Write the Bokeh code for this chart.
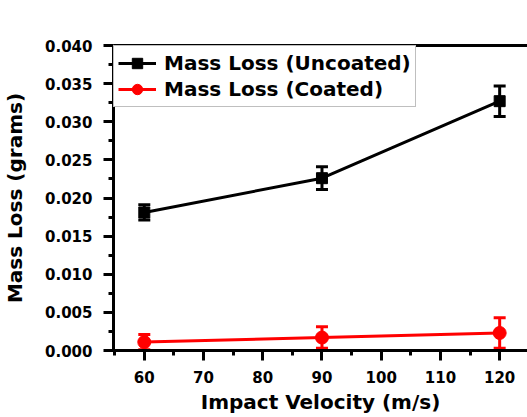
from bokeh.plotting import figure
from bokeh.models import (ColumnDataSource, Whisker, SingleIntervalTicker, NumeralTickFormatter,
                          Legend, LegendItem, LinearAxis, Range1d, FixedTicker)
from bokeh.embed import file_html
from bokeh.resources import INLINE

velocity = [60, 90, 120]
uncoated = [0.0181, 0.0226, 0.0327]
uncoated_err = [0.0010, 0.0015, 0.0020]
coated = [0.0011, 0.0017, 0.0023]
coated_err = [0.0010, 0.0014, 0.0020]

FONT = "DejaVu Sans"

src_u = ColumnDataSource(dict(x=velocity, y=uncoated,
                              lo=[v - e for v, e in zip(uncoated, uncoated_err)],
                              hi=[v + e for v, e in zip(uncoated, uncoated_err)]))
src_c = ColumnDataSource(dict(x=velocity, y=coated,
                              lo=[v - e for v, e in zip(coated, coated_err)],
                              hi=[v + e for v, e in zip(coated, coated_err)]))

p = figure(width=527, height=417, output_backend="svg", toolbar_location=None,
           x_range=Range1d(54.8, 124.7), y_range=Range1d(0.0, 0.040),
           min_border_left=112, min_border_right=0, min_border_top=45, min_border_bottom=67)
p.outline_line_color = None
p.xgrid.visible = False
p.ygrid.visible = False
p.background_fill_color = "white"
p.border_fill_color = "white"

xax = p.below[0]
yax = p.left[0]
for ax in (xax, yax):
    ax.axis_line_width = 3
    ax.axis_line_color = "black"
    ax.major_tick_line_width = 3
    ax.minor_tick_line_width = 3
    ax.major_tick_line_color = "black"
    ax.minor_tick_line_color = "black"
    ax.major_tick_in = 0
    ax.minor_tick_in = 0
    ax.major_tick_out = 10
    ax.minor_tick_out = 5
    ax.major_label_text_font = FONT
    ax.major_label_text_font_style = "bold"
    ax.major_label_text_font_size = "15px"
    ax.major_label_text_color = "black"
    ax.axis_label_text_font = FONT
    ax.axis_label_text_font_style = "bold"
    ax.axis_label_text_color = "black"
    ax.axis_label_text_font_size = "20px"

xax.ticker = SingleIntervalTicker(interval=10, num_minor_ticks=2)
yax.ticker = SingleIntervalTicker(interval=0.005, num_minor_ticks=2)
yax.formatter = NumeralTickFormatter(format="0.000")
xax.axis_label = "Impact Velocity (m/s)"
yax.axis_label = "Mass Loss (grams)"
xax.major_label_standoff = 10
yax.major_label_standoff = 11
xax.axis_label_standoff = 4
yax.axis_label_standoff = 15

# top border line
top = LinearAxis(ticker=FixedTicker(ticks=[]), major_tick_line_color=None,
                 minor_tick_line_color=None, axis_line_width=3, axis_line_color="black")
p.add_layout(top, "above")

# uncoated
lu = p.line("x", "y", source=src_u, line_color="black", line_width=3)
wu = Whisker(source=src_u, base="x", lower="lo", upper="hi", line_color="black", line_width=3)
wu.upper_head.line_width = 3
wu.lower_head.line_width = 3
wu.upper_head.size = 12
wu.lower_head.size = 12
p.add_layout(wu)
mu = p.scatter("x", "y", source=src_u, marker="square", size=11, color="black")

# coated
lc = p.line("x", "y", source=src_c, line_color="red", line_width=3)
wc = Whisker(source=src_c, base="x", lower="lo", upper="hi", line_color="red", line_width=3)
wc.upper_head.line_width = 3
wc.lower_head.line_width = 3
wc.upper_head.line_color = "red"
wc.lower_head.line_color = "red"
wc.upper_head.size = 12
wc.lower_head.size = 12
p.add_layout(wc)
mc = p.scatter("x", "y", source=src_c, marker="circle", size=13, color="red")

legend = Legend(items=[LegendItem(label="Mass Loss (Uncoated)", renderers=[lu, mu]),
                       LegendItem(label="Mass Loss (Coated)", renderers=[lc, mc])],
                location="top_left", margin=0, padding=4, spacing=0,
                glyph_width=38, glyph_height=26, label_height=24, label_standoff=8,
                border_line_color="#808080", border_line_width=1,
                background_fill_color="white", background_fill_alpha=1.0,
                label_text_font=FONT, label_text_font_style="bold",
                label_text_font_size="20px", label_text_color="black")
p.add_layout(legend)

open("out.html", "w").write(file_html(p, INLINE))
